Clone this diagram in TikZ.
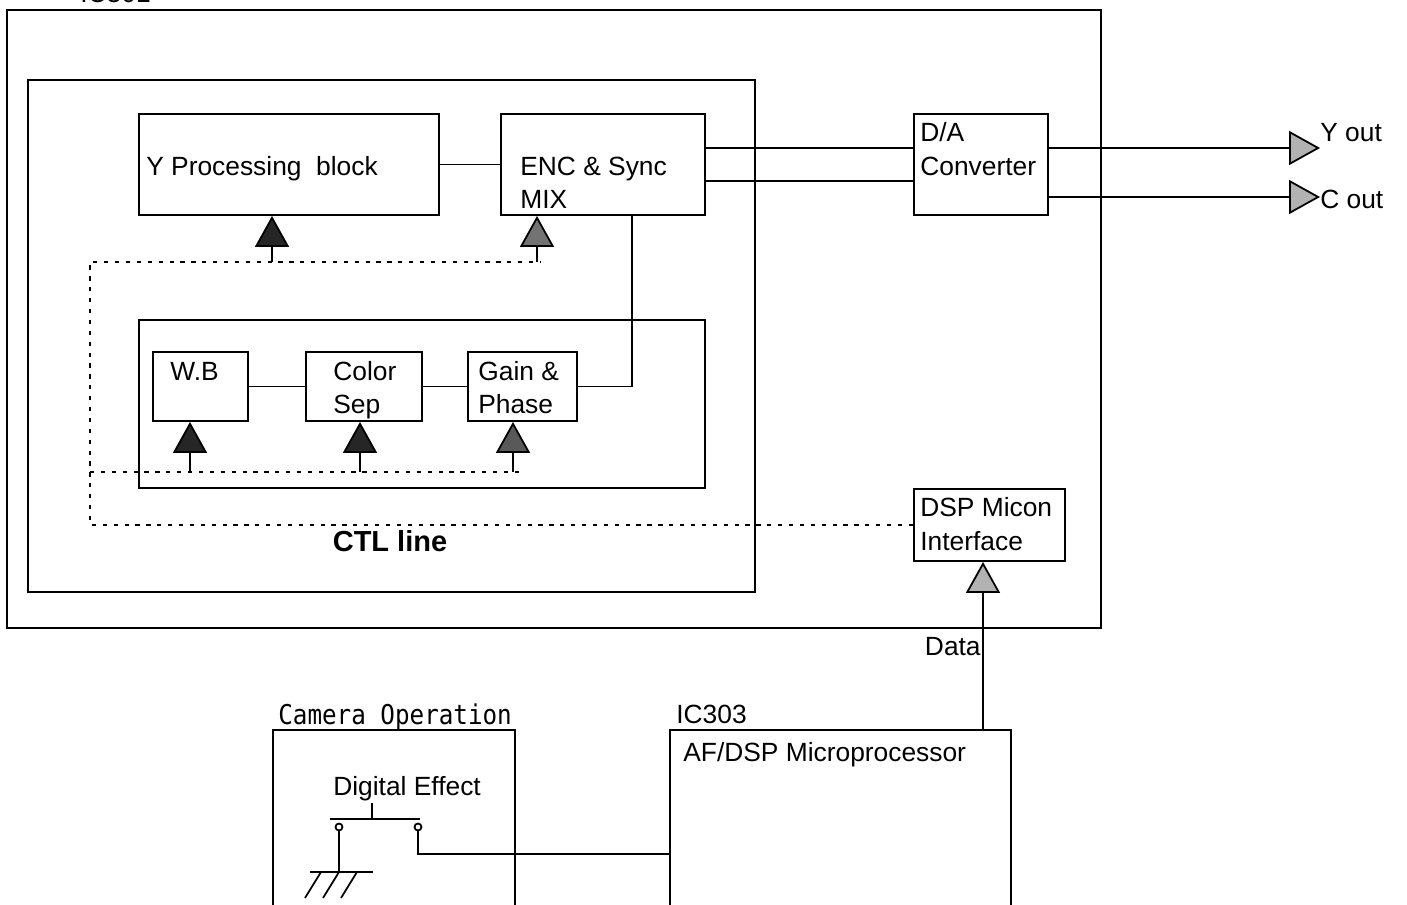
\documentclass[tikz,border=0pt]{standalone}
\usepackage{fontspec}
\setmainfont{Liberation Sans}
\newfontfamily\opfont[FakeStretch = 0.89]{DejaVu Sans Mono}
\usetikzlibrary{arrows.meta, fit}

\begin{document}
\begin{tikzpicture}[x = 0.02cm, y = -0.02cm, every node/.style = {font = \fontsize{15}{19}\selectfont},
	blk/.style = {rectangle, draw = black, line width = 1.1pt, inner sep = 0pt},
	txt/.style = {inner sep = 0pt, text depth = 0pt, align = left, anchor = west},
	wire/.style = {line width = 1pt},
	ctl/.style = {line width = 1.5pt, dash pattern = on 2.4pt off 3.8pt},
	tip/.style = {wire, -{Triangle[length = 0.62cm, width = 0.68cm, fill = #1]}}]

	\useasboundingbox (0,0) rectangle (1407,905);

	\node (IC301) [blk, fit = {(7,10) (1101,628)}] {};
	\node (CORE)  [blk, fit = {(28,80) (755,592)}] {};
	\node (YP)    [blk, fit = {(139,114) (439,215)}] {};
	\node (ENC)   [blk, fit = {(501,114) (705,215)}] {};
	\node (DA)    [blk, fit = {(914,114) (1048,215)}] {};
	\node (CHR)   [blk, fit = {(139,320) (705,488)}] {};
	\node (WB)    [blk, fit = {(153,352) (248,421)}] {};
	\node (CS)    [blk, fit = {(306,352) (422,421)}] {};
	\node (GP)    [blk, fit = {(468,352) (577,421)}] {};
	\node (DSP)   [blk, fit = {(914,489) (1065,561)}] {};
	\node (CAM)   [blk, fit = {(273,730) (515,915)}] {};
	\node (AF)    [blk, fit = {(670,730) (1011,915)}] {};

	\node (IC301t) at (80,3)      [txt, anchor = base west] {IC301};
	\node (YPt)    at (146,166)   [txt] {Y Processing~ block};
	\node (ENCt)   at (520,182.5) [txt] {ENC \& Sync\\MIX};
	\node (DAt)    at (920,149)   [txt] {D/A\\Converter};
	\node (YOUT)   at (1320,132)  [txt] {Y out};
	\node (COUT)   at (1320,199)  [txt] {C out};
	\node (WBt)    at (170,371)   [txt] {W.B};
	\node (CSt)    at (333,387.5) [txt] {Color\\Sep};
	\node (GPt)    at (478,387.5) [txt] {Gain \&\\Phase};
	\node (DSPt)   at (920,524)   [txt] {DSP Micon\\Interface};
	\node (CTL)    at (390,541)   [txt, anchor = center, font = \fontsize{16.5}{19}\selectfont\bfseries] {CTL line};
	\node (DATA)   at (981,646)   [txt, anchor = east] {Data};
	\node (CAMt)   at (278,714)   [txt, font = \opfont\fontsize{15.5}{19}\selectfont] {Camera Operation};
	\node (IC303)  at (676,714)   [txt] {IC303};
	\node (AFt)    at (683,752)   [txt] {AF/DSP Microprocessor};
	\node (DIG)    at (333,786)   [txt] {Digital Effect};

	\draw[wire] (YP.east) -- (ENC.west);
	\draw[wire] (ENC.east |- 0,148) -- (DA.west |- 0,148);
	\draw[wire] (ENC.east |- 0,181) -- (DA.west |- 0,181);
	\draw[tip = black!30] (DA.east |- 0,148) -- (YOUT.west |- 0,148);
	\draw[tip = black!30] (DA.east |- 0,197) -- (COUT.west |- 0,197);
	\draw[wire] (ENC.south -| 632,0) |- (GP.east);
	\draw[wire] (WB.east) -- (CS.west);
	\draw[wire] (CS.east) -- (GP.west);

	\draw[ctl] (DSP.west) -| (90,262) -- (540,262);
	\draw[ctl] (90,472) -- (520,472);

	\foreach \px/\py/\dst/\tone in {272/262/YP/black!85, 537/262/ENC/black!55, 190/472/WB/black!85, 360/472/CS/black!85, 513/472/GP/black!65}
		\draw[tip = \tone] (\px,\py) -- (\px,0 |- \dst.south);

	\draw[tip = black!30] (AF.north -| 983,0) -- (DSP.south -| 983,0);

	\draw[wire] (372,803) -- (372,819);
	\draw[wire] (330,819) -- (420,819);
	\draw[wire] (339,827) circle [radius = 0.07cm] (418,827) circle [radius = 0.07cm];
	\draw[wire] (339,831) -- (339,872);
	\draw[wire] (310,872) -- (373,872);
	\foreach \gx in {305,323,341}
		\draw[wire] (\gx,898) -- (\gx+16,872);
	\coordinate (SW) at (418,831);
	\draw[wire] (SW) |- (AF.west |- 0,854);
\end{tikzpicture}
\end{document}
